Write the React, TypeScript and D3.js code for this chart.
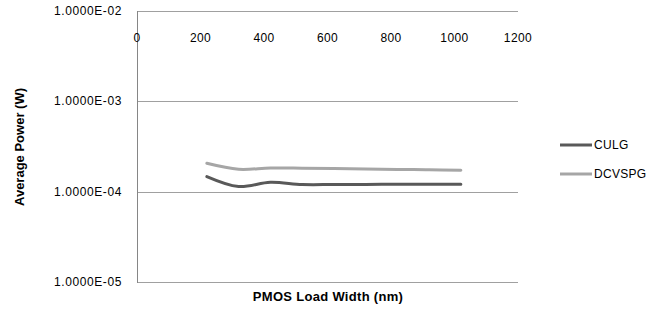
import React, { useEffect, useRef } from 'react';
import * as d3 from 'd3';

// PMOS load width (nm)
const widths = [220, 320, 420, 520, 620, 720, 820, 920, 1020];
// Average power (W)
const culg = [1.47e-4, 1.14e-4, 1.27e-4, 1.2e-4, 1.2e-4, 1.2e-4, 1.21e-4, 1.21e-4, 1.21e-4];
const dcvspg = [2.06e-4, 1.77e-4, 1.83e-4, 1.82e-4, 1.8e-4, 1.78e-4, 1.76e-4, 1.75e-4, 1.73e-4];

const xTicks = [0, 200, 400, 600, 800, 1000, 1200];
const yTicks = [1e-2, 1e-3, 1e-4, 1e-5];

const seriesNames = ['CULG', 'DCVSPG'];
const seriesColors = ['#595959', '#a6a6a6'];

const App = () => {
  const chartRef = useRef<SVGSVGElement>(null);

  useEffect(() => {
    const font = "'Liberation Sans', Arial, sans-serif";
    const left = 137, right = 518, top = 11, bottom = 282;

    const svg = d3.select(chartRef.current);
    svg.selectAll('*').remove();

    const x = d3.scaleLinear().domain([0, 1200]).range([left, right]);
    const y = d3.scaleLog().domain([1e-5, 1e-2]).range([bottom, top]);

    // horizontal gridlines
    svg.append('g')
      .selectAll('line')
      .data(yTicks)
      .enter().append('line')
      .attr('x1', left)
      .attr('x2', right)
      .attr('y1', d => Math.round(y(d)) + 0.5)
      .attr('y2', d => Math.round(y(d)) + 0.5)
      .attr('stroke', '#a0a0a0')
      .attr('stroke-width', 1);

    // vertical axis line
    svg.append('line')
      .attr('x1', left + 0.5).attr('x2', left + 0.5)
      .attr('y1', top).attr('y2', bottom + 1)
      .attr('stroke', '#868686');

    // y tick labels
    svg.append('g')
      .selectAll('text')
      .data(yTicks)
      .enter().append('text')
      .attr('x', 122)
      .attr('y', d => y(d) + 4)
      .attr('text-anchor', 'end')
      .attr('font-family', font)
      .attr('font-size', 12)
      .attr('letter-spacing', 0.6)
      .attr('fill', '#000')
      .text(d => d.toExponential(4).replace('e-', 'E-0').toUpperCase());

    // x tick labels (axis crosses at the top)
    svg.append('g')
      .selectAll('text')
      .data(xTicks)
      .enter().append('text')
      .attr('x', d => x(d))
      .attr('y', 42)
      .attr('text-anchor', 'middle')
      .attr('font-family', font)
      .attr('font-size', 12)
      .attr('letter-spacing', 0.4)
      .attr('fill', '#000')
      .text(d => d);

    const line = d3.line<number>()
      .x((_, i) => x(widths[i]))
      .y(d => y(d))
      .curve(d3.curveCatmullRom.alpha(0.5));

    [culg, dcvspg].forEach((s, i) => {
      svg.append('path')
        .datum(s)
        .attr('d', line)
        .attr('fill', 'none')
        .attr('stroke', seriesColors[i])
        .attr('stroke-width', 3)
        .attr('stroke-linecap', 'round');
    });

    // legend
    const legend = svg.append('g');
    seriesNames.forEach((name, i) => {
      const ly = 145 + i * 29;
      legend.append('line')
        .attr('x1', 560).attr('x2', 592)
        .attr('y1', ly).attr('y2', ly)
        .attr('stroke', seriesColors[i])
        .attr('stroke-width', 3);
      legend.append('text')
        .attr('x', 594)
        .attr('y', ly + 4)
        .attr('font-family', font)
        .attr('font-size', 12)
        .attr('letter-spacing', 0.3)
        .attr('fill', '#000')
        .text(name);
    });

    // axis titles
    svg.append('text')
      .attr('x', 328)
      .attr('y', 301)
      .attr('text-anchor', 'middle')
      .attr('font-family', font)
      .attr('font-size', 13)
      .attr('font-weight', 'bold')
      .attr('letter-spacing', 0.3)
      .text('PMOS Load Width (nm)');

    svg.append('text')
      .attr('transform', 'translate(24,147) rotate(-90)')
      .attr('text-anchor', 'middle')
      .attr('font-family', font)
      .attr('font-size', 13)
      .attr('font-weight', 'bold')
      .text('Average Power (W)');
  }, []);

  return (
    <svg
      ref={chartRef}
      width={662}
      height={310}
      style={{ position: 'absolute', left: 0, top: 0, background: '#fff' }}
    />
  );
};

export default App;
